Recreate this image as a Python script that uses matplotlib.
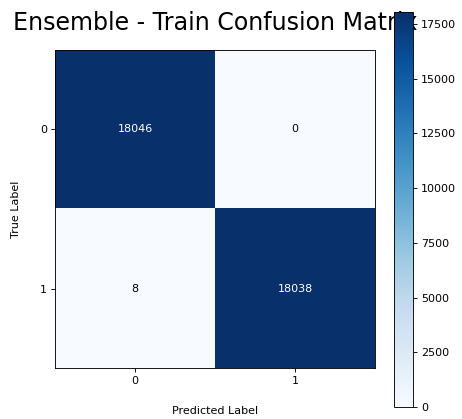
import matplotlib
matplotlib.use("Agg")
import matplotlib.pyplot as plt
import numpy as np

classes = ["0", "1"]
cm = np.array([[18046, 0],
               [8, 18038]])
title = "Ensemble - Train Confusion Matrix"
cbar_ticks = [0, 2500, 5000, 7500, 10000, 12500, 15000, 17500]

DPI = 80
fig = plt.figure(figsize=(462 / DPI, 419 / DPI), dpi=DPI)
ax = fig.add_axes([0.119, 0.1217, 0.6926, 0.759])
im = ax.imshow(cm, interpolation="nearest", cmap="Blues", aspect="auto")
ax.set_title(title, fontsize=21.4, pad=18)
ax.set_xticks(range(len(classes)))
ax.set_xticklabels(classes)
ax.set_yticks(range(len(classes)))
ax.set_yticklabels(classes)
ax.set_xlabel("Predicted Label", labelpad=18.5)
ax.set_ylabel("True Label", labelpad=17)
thresh = cm.max() / 2.0
for i in range(cm.shape[0]):
    for j in range(cm.shape[1]):
        ax.text(j, i, str(cm[i, j]), ha="center", va="center",
                color="white" if cm[i, j] > thresh else "black")

cax = fig.add_axes([0.853, 0.0286, 0.041, 0.943])
cb = fig.colorbar(im, cax=cax, ticks=cbar_ticks)

fig.savefig("out.png", dpi=DPI)
